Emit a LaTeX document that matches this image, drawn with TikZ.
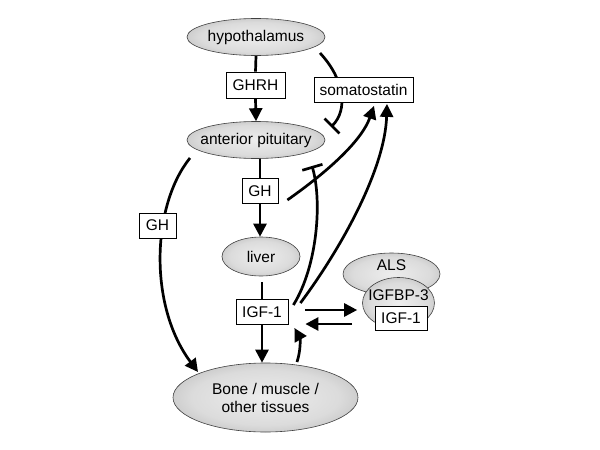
\documentclass[tikz,border=0pt]{standalone}
\usepackage{fontspec}
\setmainfont{Liberation Sans}
\usetikzlibrary{shapes.geometric,arrows.meta,calc}
\pgfdeclareradialshading{ellshade}{\pgfpoint{0bp}{0bp}}{color(0bp)=(black!7); color(20bp)=(black!14); color(50bp)=(black!45)}
\pgfdeclarelayer{bg}
\pgfsetlayers{bg,main}
\begin{document}
\begin{tikzpicture}[x=1pt,y=-1pt,
  font=\fontsize{15.5}{18}\selectfont,
  ell/.style={ellipse, draw=black!75, line width=0.6pt, shading=ellshade, inner sep=0pt},
  box/.style={draw, line width=0.8pt, fill=white, inner sep=0pt},
  txt/.style={inner sep=0pt},
  ln/.style={line width=2.7pt},
  arr/.style={line width=2.7pt, -{Triangle[length=13pt,width=13pt]}},
  inh/.style={line width=2.7pt, -{Bar[width=21pt]}}]
\useasboundingbox (0,0) rectangle (600,450);

\node[ell, minimum width=138pt, minimum height=37pt] (hyp) at (256,37) {};
\node[txt] (hypT) at (hyp) {hypothalamus};
\node[box, minimum width=59pt, minimum height=26pt] (ghrh) at (255.5,85) {GHRH};
\node[ell, minimum width=138pt, minimum height=37pt] (antpit) at (256,140) {};
\node[txt] (antpitT) at (antpit) {anterior pituitary};
\node[box, minimum width=99pt, minimum height=25pt] (somato) at (363.5,89.5) {somatostatin};
\node[box, minimum width=36pt, minimum height=25pt] (gh) at (260,191) {GH};
\node[ell, minimum width=78pt, minimum height=39pt] (liver) at (261,256.5) {};
\node[txt] (liverT) at (liver) {liver};
\node[box, minimum width=52pt, minimum height=25pt] (igf) at (262,312) {IGF-1};
\node[ell, minimum width=185pt, minimum height=69pt] (bone) at (265.5,397.5) {};
\node[txt, align=center] (boneT) at (bone) {Bone / muscle /\\other tissues};
\node[box, minimum width=37pt, minimum height=25pt] (ghl) at (157.5,225.5) {GH};
\node[ell, minimum width=97pt, minimum height=42pt] (als) at (391.5,274) {};
\node[txt] (alsT) at (391.5,265) {ALS};
\node[ell, minimum width=72pt, minimum height=51pt] (bp3) at (398.5,303) {};
\node[txt] (bp3T) at (398.5,295) {IGFBP-3};
\node[box, minimum width=52pt, minimum height=24pt] (igfc) at (401,318) {IGF-1};

\begin{pgfonlayer}{bg}
\draw[ln] (hyp.south) -- (ghrh.north);
\draw[arr] (ghrh.south) -- (antpit.north);
\draw[ln] (gh.north |- antpit.south) -- (gh.north);
\draw[arr] (gh.south) -- (gh.south |- liver.north);
\draw[ln] ([yshift=-6pt]igf.north |- liver.south) -- (igf.north);
\draw[arr] (igf.south) -- (igf.south |- bone.north);
\draw[arr] ($(antpit.center)+(-66,18)$) .. controls (152,205) and (148,305) .. ($(bone.center)+(-67.5,-25.5)$);
\draw[inh] ($(hyp.center)+(64,16)$) .. controls (345,80) and (348,110) .. ($(antpit.center)+(75,-13)$);
\draw[arr] ($(gh.east)+(9,9)$) .. controls (330,170) and (362,140) .. ($(somato.south)+(10.5,3.5)$);
\draw[inh] ($(igf.east)+(5,-7)$) .. controls (318,265) and (322,200) .. ($(antpit.center)+(56,26)$);
\draw[arr] ($(igf.east)+(12,-9)$) .. controls (340,250) and (385,170) .. ($(somato.south)+(23.5,1.5)$);
\draw[arr] ($(bone.center)+(31.5,-35.5)$) .. controls (301,350) and (300,338) .. ($(igf.east)+(6,16)$);
\draw[arr] ($(igf.east)+(17,-2)$) -- ($(bp3.west)+(-5,7)$);
\draw[arr] ($(bp3.west)+(-10,21)$) -- ($(igf.east)+(17,12)$);
\end{pgfonlayer}
\end{tikzpicture}
\end{document}
